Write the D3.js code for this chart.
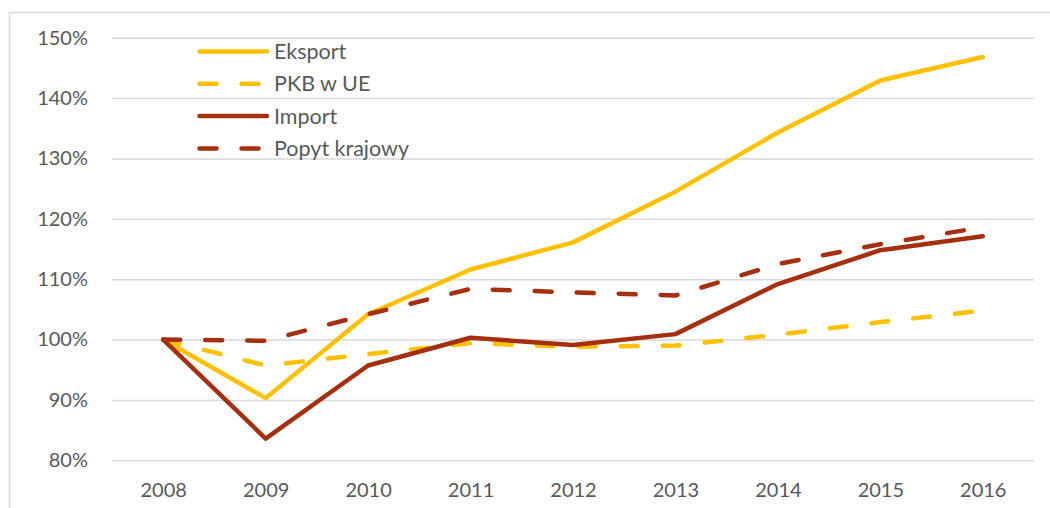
<!DOCTYPE html>
<html><head><meta charset="utf-8">
<script src="https://cdn.jsdelivr.net/npm/d3@7/dist/d3.min.js"></script>
<style>body{margin:0;background:#fff;}svg{display:block;}</style>
</head><body>
<svg id="c" width="1050" height="508"></svg>
<script>
const years = ["2008","2009","2010","2011","2012","2013","2014","2015","2016"];
const eksport = [100, 90.3, 104.2, 111.6, 116.1, 124.5, 134.3, 142.9, 146.8];
const pkbUE   = [100, 95.7, 97.6, 99.4, 98.8, 99.0, 100.8, 102.9, 104.8];
const importV = [100, 83.6, 95.7, 100.3, 99.1, 100.9, 109.2, 114.8, 117.1];
const popyt   = [100, 99.8, 104.2, 108.4, 107.8, 107.3, 112.5, 115.8, 118.6];
const yTicks  = [80, 90, 100, 110, 120, 130, 140, 150];
const seriesNames = ["Eksport", "PKB w UE", "Import", "Popyt krajowy"];

const series = [
  {name: seriesNames[0], values: eksport, color: "#FFC000", dash: null},
  {name: seriesNames[1], values: pkbUE,   color: "#FFC000", dash: "17,25"},
  {name: seriesNames[2], values: importV, color: "#A5300F", dash: null},
  {name: seriesNames[3], values: popyt,   color: "#A5300F", dash: "17,25"}
];

const svg = d3.select("#c");
const font = "Lato, 'Open Sans', sans-serif";
svg.append("rect").attr("x",9.5).attr("y",12.5).attr("width",1200).attr("height",800)
  .attr("fill","none").attr("stroke","#D9D9D9").attr("stroke-width",1.5);

const pLeft = 112, pRight = 1034, pTop = 37.7, pBottom = 460.3;
const x = d3.scalePoint().domain(years).range([pLeft, pRight]).padding(0.5);
const y = d3.scaleLinear().domain([80,150]).range([pBottom, pTop]);

const yAxis = svg.append("g").attr("transform",`translate(${pLeft},0)`)
  .call(d3.axisLeft(y).tickValues(yTicks).tickSize(-(pRight-pLeft)).tickFormat(d=>d+"%").tickPadding(24));
yAxis.select(".domain").remove();
yAxis.selectAll("line").attr("stroke","#D9D9D9").attr("stroke-width",1.5);
yAxis.selectAll("text").attr("fill","#595959").style("font-family",font).style("font-size","20px");

const xAxis = svg.append("g").attr("transform",`translate(0,${pBottom})`)
  .call(d3.axisBottom(x).tickSize(0).tickPadding(23));
xAxis.select(".domain").remove();
xAxis.selectAll("text").attr("fill","#595959").style("font-family",font).style("font-size","20px");

const line = d3.line().x((d,i)=>x(years[i])).y(d=>y(d));
series.forEach(s=>{
  svg.append("path").datum(s.values).attr("d",line)
    .attr("fill","none").attr("stroke",s.color).attr("stroke-width",4.5)
    .attr("stroke-linecap","round").attr("stroke-linejoin","round")
    .attr("stroke-dasharray",s.dash);
});

const lg = svg.append("g");
series.forEach((s,i)=>{
  const yy = 51.5 + i*32.3;
  lg.append("line").attr("x1",199.5).attr("x2",267).attr("y1",yy).attr("y2",yy)
    .attr("stroke",s.color).attr("stroke-width",4.5).attr("stroke-linecap","round")
    .attr("stroke-dasharray",s.dash);
  lg.append("text").attr("x",274).attr("y",yy).attr("dy","0.35em")
    .attr("fill","#595959").style("font-family",font).style("font-size","21.5px").text(s.name);
});
</script>
</body></html>
